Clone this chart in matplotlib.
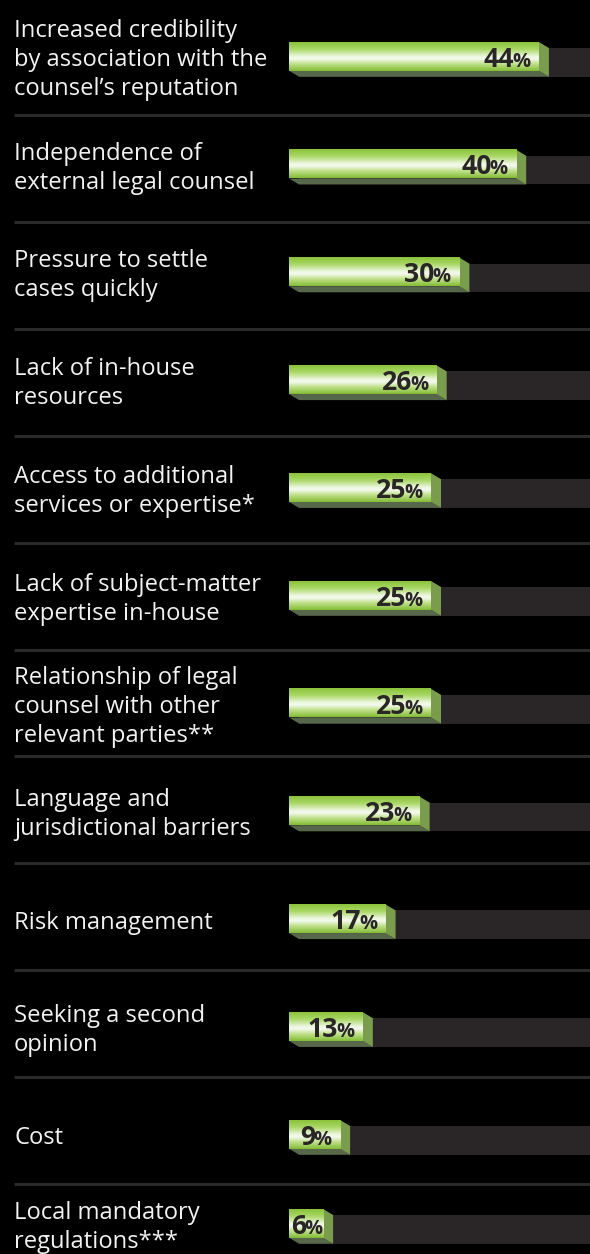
import numpy as np
import matplotlib.pyplot as plt
from matplotlib.colors import LinearSegmentedColormap
from matplotlib.patches import Polygon, Rectangle

# Reasons for hiring external counsel, share of respondents (%)
labels = [
    'Increased credibility\nby association with the\ncounsel\u2019s reputation',
    'Independence of\nexternal legal counsel',
    'Pressure to settle\ncases quickly',
    'Lack of in-house\nresources',
    'Access to additional\nservices or expertise*',
    'Lack of subject-matter\nexpertise in-house',
    'Relationship of legal\ncounsel with other\nrelevant parties**',
    'Language and\njurisdictional barriers',
    'Risk management',
    'Seeking a second\nopinion',
    'Cost',
    'Local mandatory\nregulations***',
]
values = [44, 40, 30, 26, 25, 25, 25, 23, 17, 13, 9, 6]

W, H = 590, 1254
fig = plt.figure(figsize=(W / 100, H / 100), dpi=100, facecolor='black')
ax = fig.add_axes([0, 0, 1, 1])
ax.set_facecolor('black')
ax.set_xlim(0, W)
ax.set_ylim(H, 0)
ax.set_autoscale_on(False)

# layout in pixels (1 data unit = 1 pixel)
x0 = 289          # left edge of the bars
scale = 5.68      # pixels per percent
bar_h = 28.7
dx, dy = 10, 6    # extrusion of the 3d bars
row_top = 42 + 107.8 * np.arange(len(values))
row_top[-1] = 1209
sep_y = 115 + 106.9 * np.arange(len(values) - 1)

grad = LinearSegmentedColormap.from_list('bar', [
    (0.0, '#8ac43a'), (0.25, '#acd868'), (0.5, '#eef7e2'), (0.58, '#f4f9ee'),
    (0.75, '#c2e28e'), (1.0, '#84bd36')])
col = grad(np.linspace(0, 1, 64))[:, None, :]

for y in sep_y:
    ax.plot([14, W], [y, y], color='#2b2829', lw=2.2, solid_capstyle='butt')

renderer = fig.canvas.get_renderer()
lab_style = dict(va='baseline', fontweight='bold', family='Open Sans',
                 color='#2a2626', zorder=4)

for lab, v, yt in zip(labels, values, row_top):
    x1 = x0 + v * scale
    yb = yt + bar_h
    # dark track behind the bar
    ax.add_patch(Rectangle((x0 + dx, yt + dy), W - x0 - dx, bar_h,
                           color='#2a2627', lw=0, zorder=1))
    # bottom and side faces
    ax.add_patch(Polygon([(x0, yb), (x1, yb), (x1 + dx, yb + dy), (x0 + dx, yb + dy)],
                         closed=True, color='#57674a', lw=0, zorder=2))
    ax.add_patch(Polygon([(x1, yt), (x1 + dx, yt + dy), (x1 + dx, yb + dy), (x1, yb)],
                         closed=True, color='#7a9c4d', lw=0, zorder=2))
    # front face with the glossy gradient
    ax.imshow(col, extent=(x0, x1, yb, yt), origin='upper', aspect='auto',
              interpolation='bilinear', zorder=3)

    # value label: number plus smaller percent sign, right aligned in the bar
    base = yt + 24.7
    num = ax.text(0, base, str(v), ha='left', fontsize=19.2, **lab_style)
    pct = ax.text(0, base, '%', ha='left', fontsize=14.5, **lab_style)
    nw = num.get_window_extent(renderer=renderer).width - 2
    pw = pct.get_window_extent(renderer=renderer).width
    left = max(x1 - 8.5 - nw - pw, x0 + 2)
    num.set_x(left)
    pct.set_x(left + nw)

    ax.text(14, yt + bar_h / 2 + 4, lab, ha='left', va='center',
            fontsize=17.1, family='Open Sans', color='#f2f2f2',
            linespacing=1.28)

ax.axis('off')

fig.savefig('out.png', dpi=100, facecolor='black')
